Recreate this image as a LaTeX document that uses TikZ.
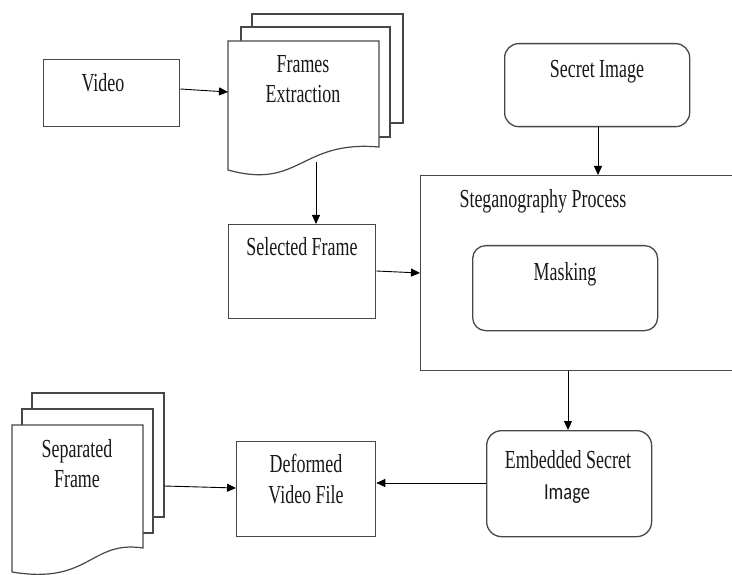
\documentclass[tikz,border=0pt]{standalone}
\usepackage{fontspec}
\setmainfont{Liberation Serif}[FakeStretch=0.69]
\newfontfamily\imgfont{Carlito}[FakeStretch=0.8]
\usetikzlibrary{arrows.meta}
\tikzset{
  box/.style={draw=black!72, line width=1.3pt, fill=white, inner sep=0pt, anchor=north west},
  rbox/.style={box, rounded corners=14pt},
  page/.style={draw=black!72, line width=1.2pt, fill=white},
  txt/.style={font=\fontsize{26}{30}\selectfont, anchor=base, inner sep=0pt, text=black!90},
  arr/.style={draw=black, line width=0.9pt, -{Triangle[length=9pt,width=8pt]}}
}
\begin{document}
\begin{tikzpicture}[x=1pt,y=-1pt]
\clip (0,0) rectangle (732,575);
\fill[white] (0,0) rectangle (732,575);

% Video
\node[box, minimum width=136pt, minimum height=67pt] (video) at (43,59) {};
\node[txt] (tvideo) at (103,92) {Video};

% Frames Extraction (stack of documents)
\draw[page] (252,14) rectangle (403,123);
\draw[page] (241,27) rectangle (390,137);
\draw[page] (228,41) -- (379,41) -- (379,147) .. controls (300,140) and (300,190) .. (228,170) -- cycle;
\coordinate (frin) at (228,92);
\coordinate (frout) at (316,162);
\node[txt] (tframes) at (303,73) {Frames};
\node[txt] (textr) at (303,103) {Extraction};

% Selected Frame
\node[box, minimum width=147pt, minimum height=94pt] (sel) at (228,224) {};
\node[txt] (tsel) at (302,256) {Selected Frame};

% Secret Image
\node[rbox, minimum width=185pt, minimum height=83pt] (secret) at (504,43) {};
\node[txt] (tsecret) at (597,78) {Secret Image};

% Steganography Process
\node[box, minimum width=320pt, minimum height=195pt] (steg) at (420,175) {};
\node[txt] (tsteg) at (543,208) {Steganography Process};
\node[rbox, minimum width=185pt, minimum height=85pt, rounded corners=13pt] (mask) at (472,245) {};
\node[txt] (tmask) at (565,281) {Masking};

% Embedded Secret Image
\node[rbox, minimum width=165pt, minimum height=106pt, rounded corners=15pt] (emb) at (486,430) {};
\node[txt] (temb1) at (568,468) {Embedded Secret};
\node[txt, font=\imgfont\fontsize{23}{30}\selectfont] (temb2) at (567,499) {Image};

% Deformed Video File
\node[box, minimum width=139pt, minimum height=95pt] (def) at (236,441) {};
\node[txt] (tdef1) at (306,472) {Deformed};
\node[txt] (tdef2) at (306,503) {Video File};

% Separated Frame (stack of documents)
\draw[page] (32,393) rectangle (164,517);
\draw[page] (22,409) rectangle (153,533);
\draw[page] (12,425) -- (143,425) -- (143,548) .. controls (90,540) and (90,585) .. (12,572) -- cycle;
\coordinate (sepout) at (164,486);
\node[txt] (tsep1) at (77,457) {Separated};
\node[txt] (tsep2) at (77,487) {Frame};

% Connectors
\draw[arr] (video.east |- 0,89) -- (frin);
\draw[arr] (frout) -- (sel.north -| frout);
\draw[arr] (sel.east |- 0,271) -- (steg.west |- 0,273);
\draw[arr] (secret.south -| 598,0) -- (steg.north -| 598,0);
\draw[arr] (steg.south -| 568,0) -- (emb.north -| 568,0);
\draw[arr] (emb.west |- 0,483) -- (def.east |- 0,483);
\draw[arr] (sepout) -- (def.west |- 0,488);
\end{tikzpicture}
\end{document}
